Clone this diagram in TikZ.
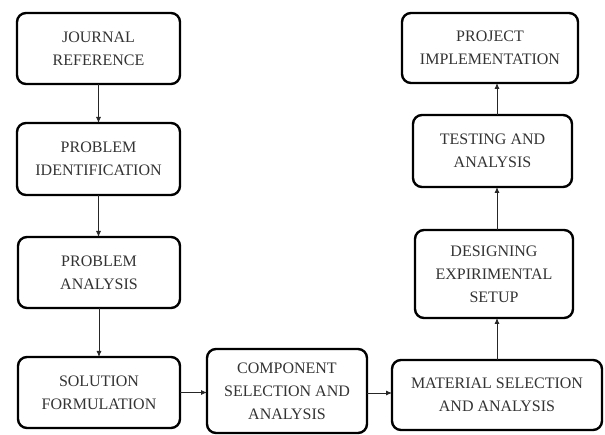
\documentclass[tikz,border=0pt]{standalone}
\usepackage{fontspec}
\setmainfont{Liberation Serif}
\usetikzlibrary{arrows.meta,calc}
\begin{document}
\begin{tikzpicture}[x=1pt,y=-1pt,
  box/.style={draw=black,line width=2.4pt,rounded corners=9pt,fill=white,
    align=center,font=\fontsize{16}{23}\selectfont,text=black!80,
    inner sep=0pt,outer sep=0pt},
  arr/.style={draw=black!85,line width=0.8pt,-{Latex[length=6pt,width=5pt]}}]
\useasboundingbox (0,0) rectangle (605,435);
\node[box,minimum width=163pt,minimum height=71pt] (J) at (98.5,48.5) {JOURNAL\\REFERENCE};
\node[box,minimum width=163pt,minimum height=72pt] (PI) at (98.5,159) {PROBLEM\\IDENTIFICATION};
\node[box,minimum width=162pt,minimum height=71pt] (PA) at (99,272.5) {PROBLEM\\ANALYSIS};
\node[box,minimum width=162pt,minimum height=71pt] (SF) at (99,392.5) {SOLUTION\\FORMULATION};
\node[box,minimum width=160pt,minimum height=84pt] (C) at (287,391) {COMPONENT\\SELECTION AND\\ANALYSIS};
\node[box,minimum width=210pt,minimum height=70pt] (M) at (497,395) {MATERIAL SELECTION\\AND ANALYSIS};
\node[box,minimum width=158pt,minimum height=88pt] (D) at (494,274) {DESIGNING\\EXPIRIMENTAL\\SETUP};
\node[box,minimum width=159pt,minimum height=72pt] (T) at (492.5,151) {TESTING AND\\ANALYSIS};
\node[box,minimum width=176pt,minimum height=70pt] (P) at (490,48) {PROJECT\\IMPLEMENTATION};
\draw[arr] (J.south) -- (J.south |- PI.north);
\draw[arr] (PI.south) -- (PI.south |- PA.north);
\draw[arr] (PA.south) -- (PA.south |- SF.north);
\draw[arr] (SF.east) -- (SF.east -| C.west);
\draw[arr] ($(C.east)+(0,2)$) -- ($(C.east -| M.west)+(0,2)$);
\draw[arr] (M.north) -- (M.north |- D.south);
\draw[arr] (D.south -| M.north) ++(0,-88) coordinate (d1) -- (d1 |- T.south);
\draw[arr] (T.north -| M.north) -- (M.north |- P.south);
\end{tikzpicture}
\end{document}
